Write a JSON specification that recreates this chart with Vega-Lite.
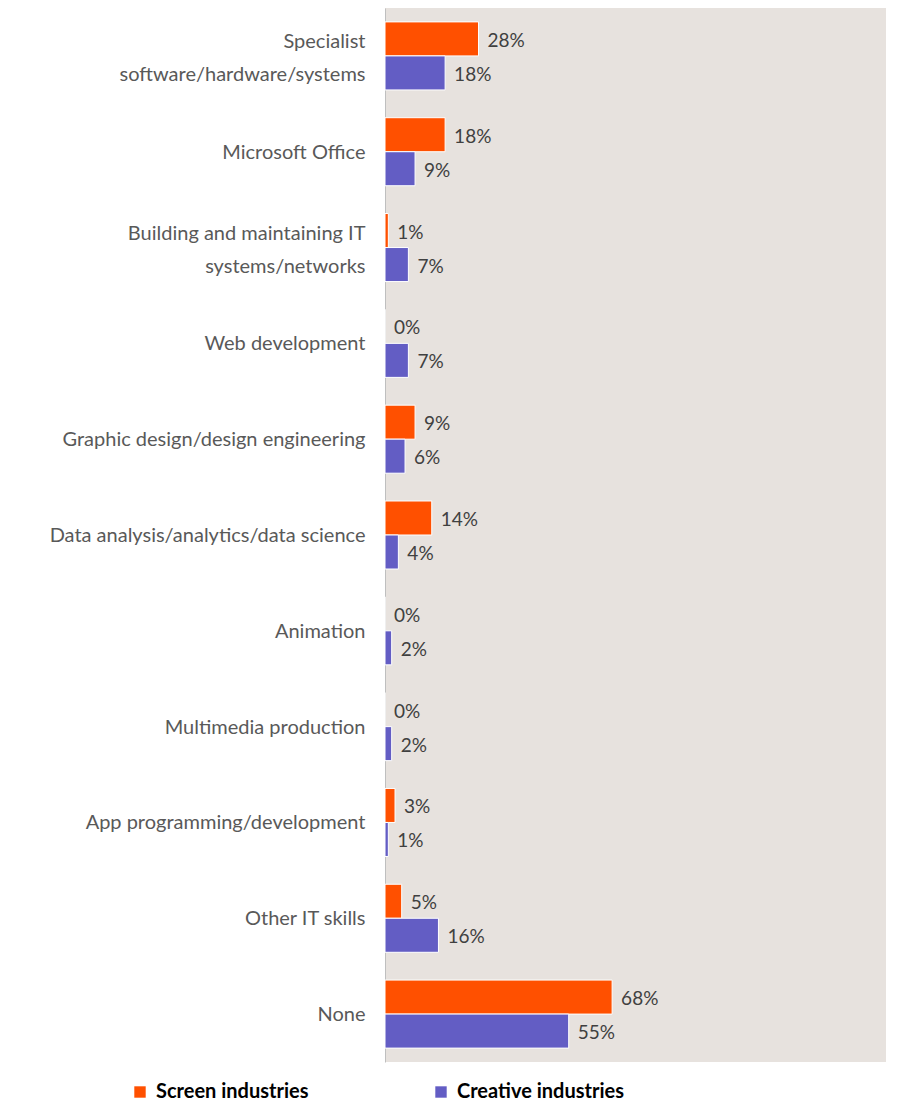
{
  "$schema": "https://vega.github.io/schema/vega-lite/v6.json",
  "autosize": {"type": "none"},
  "padding": {"left": 385, "top": 8, "right": 19, "bottom": 39},
  "width": 501,
  "height": 1054,
  "background": "white",
  "config": {
    "view": {"fill": "#E7E2DE", "stroke": null},
    "font": "Lato"
  },
  "data": {
    "values": [
      {"skill": "Specialist|software/hardware/systems", "series": "Screen industries", "value": 28},
      {"skill": "Specialist|software/hardware/systems", "series": "Creative industries", "value": 18},
      {"skill": "Microsoft Office", "series": "Screen industries", "value": 18},
      {"skill": "Microsoft Office", "series": "Creative industries", "value": 9},
      {"skill": "Building and maintaining IT|systems/networks", "series": "Screen industries", "value": 1},
      {"skill": "Building and maintaining IT|systems/networks", "series": "Creative industries", "value": 7},
      {"skill": "Web development", "series": "Screen industries", "value": 0},
      {"skill": "Web development", "series": "Creative industries", "value": 7},
      {"skill": "Graphic design/design engineering", "series": "Screen industries", "value": 9},
      {"skill": "Graphic design/design engineering", "series": "Creative industries", "value": 6},
      {"skill": "Data analysis/analytics/data science", "series": "Screen industries", "value": 14},
      {"skill": "Data analysis/analytics/data science", "series": "Creative industries", "value": 4},
      {"skill": "Animation", "series": "Screen industries", "value": 0},
      {"skill": "Animation", "series": "Creative industries", "value": 2},
      {"skill": "Multimedia production", "series": "Screen industries", "value": 0},
      {"skill": "Multimedia production", "series": "Creative industries", "value": 2},
      {"skill": "App programming/development", "series": "Screen industries", "value": 3},
      {"skill": "App programming/development", "series": "Creative industries", "value": 1},
      {"skill": "Other IT skills", "series": "Screen industries", "value": 5},
      {"skill": "Other IT skills", "series": "Creative industries", "value": 16},
      {"skill": "None", "series": "Screen industries", "value": 68},
      {"skill": "None", "series": "Creative industries", "value": 55}
    ]
  },
  "encoding": {
    "y": {
      "field": "skill",
      "type": "nominal",
      "sort": null,
      "scale": {"paddingInner": 0.29, "paddingOuter": 0.145},
      "axis": {
        "title": null,
        "ticks": false,
        "domainColor": "#BFBFBF",
        "domainWidth": 1,
        "labelExpr": "split(datum.value, '|')",
        "labelFontSize": 20,
        "labelColor": "#595959",
        "labelPadding": 20,
        "labelLineHeight": 33,
        "labelLimit": 400,
        "labelOffset": {"condition": {"test": "indexof(datum.value, '|') >= 0", "value": -14}, "value": 1}
      }
    },
    "yOffset": {
      "field": "series",
      "type": "nominal",
      "sort": ["Screen industries", "Creative industries"],
      "scale": {"paddingInner": 0, "paddingOuter": 0}
    },
    "x": {
      "field": "value",
      "type": "quantitative",
      "scale": {"domain": [0, 150]},
      "axis": null
    }
  },
  "layer": [
    {
      "mark": {"type": "bar", "stroke": "white", "strokeWidth": 1},
      "encoding": {
        "color": {
          "field": "series",
          "type": "nominal",
          "sort": ["Screen industries", "Creative industries"],
          "scale": {"domain": ["Screen industries", "Creative industries"], "range": ["#FF5000", "#635DC4"]},
          "legend": {
            "title": null,
            "orient": "none",
            "direction": "horizontal",
            "legendX": -255,
            "legendY": 1074,
            "symbolType": "square",
            "symbolSize": 130,
            "symbolStrokeWidth": 0,
            "labelFontSize": 20,
            "labelFontWeight": "bold",
            "labelColor": "#000000",
            "labelLimit": 400,
            "columnPadding": 122,
            "labelOffset": 6
          }
        }
      }
    },
    {
      "mark": {"type": "text", "align": "left", "baseline": "middle", "dx": 9, "dy": 2, "fontSize": 19, "color": "#404040", "text": {"expr": "datum.value + '%'"}},
      "encoding": {
        "detail": {"field": "series"}
      }
    }
  ]
}
